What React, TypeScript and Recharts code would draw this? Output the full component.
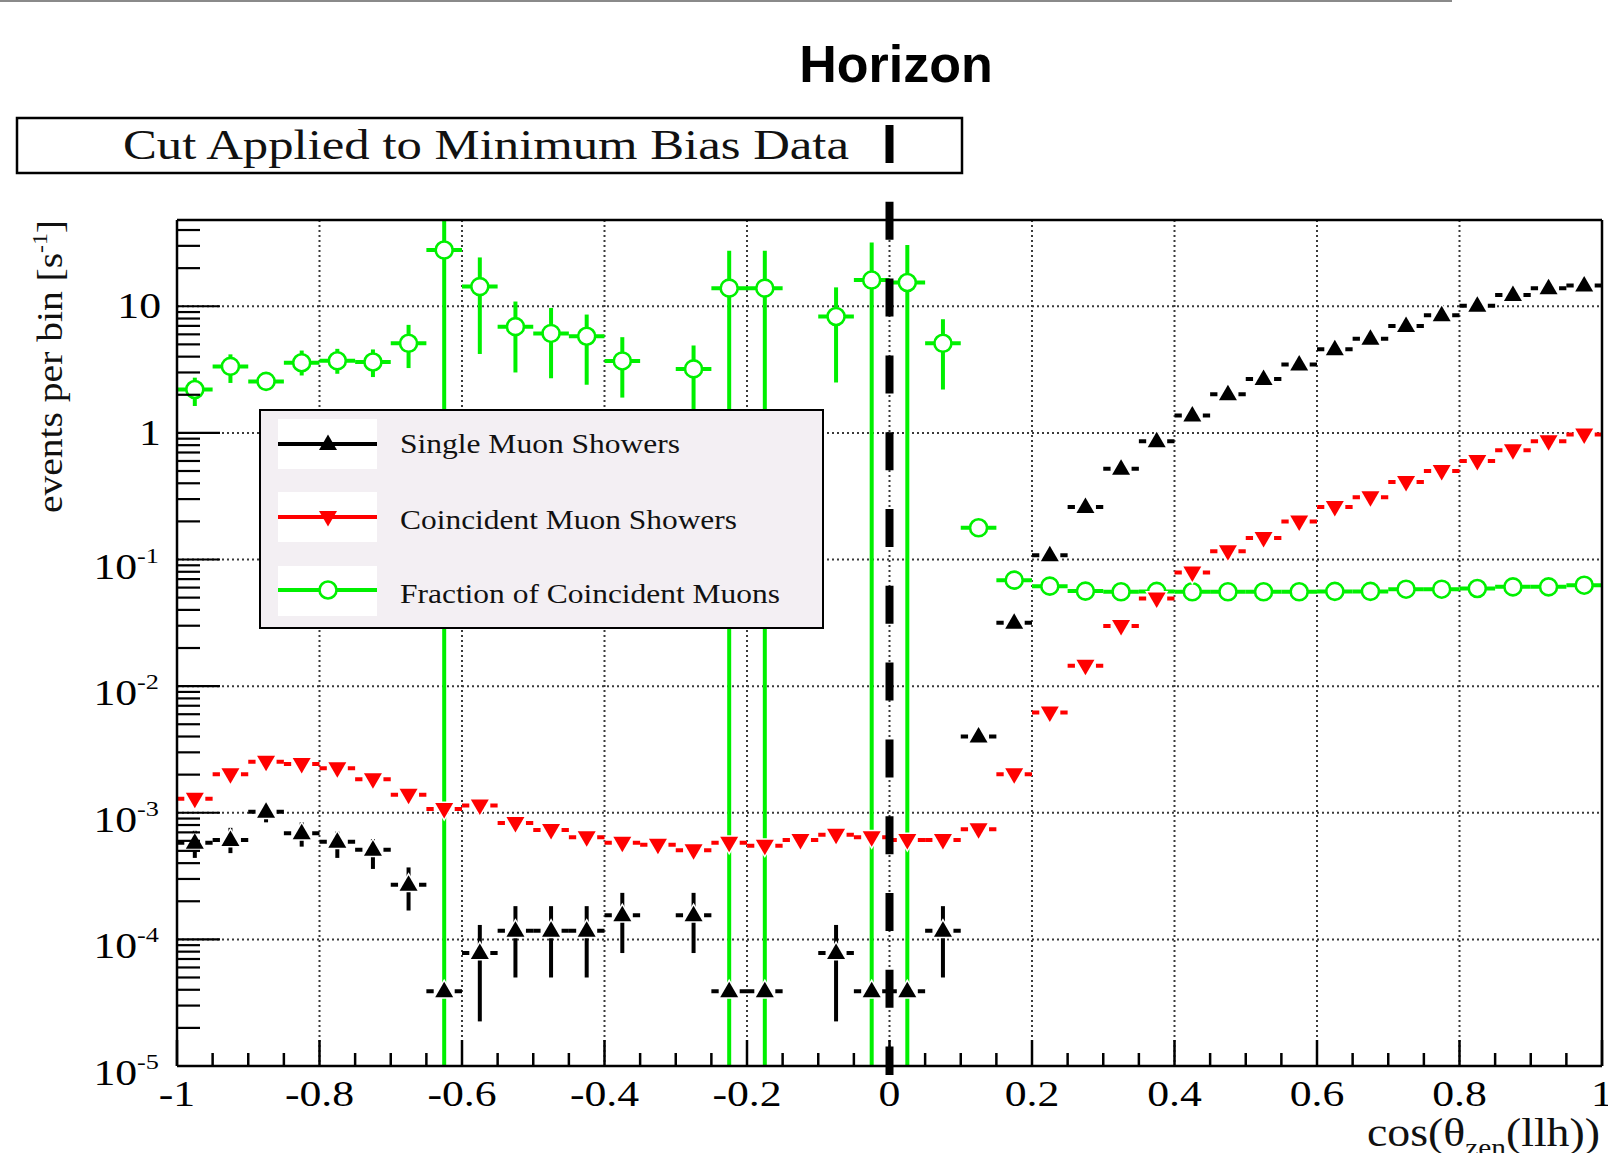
import React from 'react';
import { ScatterChart, Scatter, XAxis, YAxis, CartesianGrid, ReferenceLine, ErrorBar, Legend } from 'recharts';

// ---------- data ----------
const binCenters = [-0.975, -0.925, -0.875, -0.825, -0.775, -0.725, -0.675, -0.625, -0.575, -0.525, -0.475, -0.425, -0.375, -0.325, -0.275, -0.225, -0.175, -0.125, -0.075, -0.025, 0.025, 0.075, 0.125, 0.175, 0.225, 0.275, 0.325, 0.375, 0.425, 0.475, 0.525, 0.575, 0.625, 0.675, 0.725, 0.775, 0.825, 0.875, 0.925, 0.975];
const binHalfWidth = 0.025;

const singleMuon = [5.8e-4, 6.1e-4, 1.02e-3, 6.9e-4, 5.9e-4, 5.1e-4, 2.7e-4, 3.9e-5, 7.8e-5, 1.17e-4, 1.17e-4, 1.17e-4, 1.55e-4, null, 1.55e-4, 3.9e-5, 3.9e-5, null, 7.8e-5, 3.9e-5, 3.9e-5, 1.17e-4, 4.0e-3, 0.0316, 0.108, 0.26, 0.52, 0.86, 1.37, 2.02, 2.67, 3.47, 4.57, 5.55, 6.98, 8.5, 10.1, 12.3, 13.9, 14.6];
const singleLow = [4.4e-4, 4.8e-4, 8.4e-4, 5.4e-4, 4.4e-4, 3.6e-4, 1.69e-4, null, 2.25e-5, 5.0e-5, 5.0e-5, 5.0e-5, 7.8e-5, null, 7.8e-5, null, null, null, 2.25e-5, null, null, 5.0e-5, null, null, null, null, null, null, null, null, null, null, null, null, null, null, null, null, null, null];
const singleHigh = [7.2e-4, 7.6e-4, 1.16e-3, 8.4e-4, 7.1e-4, 6.2e-4, 3.7e-4, null, 1.3e-4, 1.83e-4, 1.83e-4, 1.83e-4, 2.33e-4, null, 2.33e-4, null, null, null, 1.3e-4, null, null, 1.83e-4, null, null, null, null, null, null, null, null, null, null, null, null, null, null, null, null, null, null];

const coincidentMuon = [1.29e-3, 2.01e-3, 2.53e-3, 2.43e-3, 2.25e-3, 1.84e-3, 1.39e-3, 1.07e-3, 1.14e-3, 8.3e-4, 7.3e-4, 6.4e-4, 5.8e-4, 5.6e-4, 5.05e-4, 5.8e-4, 5.5e-4, 6.1e-4, 6.7e-4, 6.4e-4, 6.1e-4, 6.1e-4, 7.4e-4, 2.01e-3, 6.2e-3, 0.0145, 0.0298, 0.0493, 0.079, 0.116, 0.148, 0.2, 0.26, 0.31, 0.41, 0.5, 0.6, 0.73, 0.86, 0.97];

const fraction = [2.2, 3.35, 2.55, 3.58, 3.71, 3.63, 5.1, 27.8, 14.3, 6.9, 6.1, 5.8, 3.7, null, 3.2, 13.9, 13.9, null, 8.3, 16.1, 15.4, 5.1, 0.178, 0.0687, 0.0616, 0.0563, 0.0556, 0.056, 0.0556, 0.0556, 0.0556, 0.0556, 0.056, 0.056, 0.0583, 0.0583, 0.059, 0.0608, 0.0608, 0.0627];
const fractionLow = [1.63, 2.48, null, 2.84, 2.93, 2.76, 3.25, 1e-5, 4.2, 3.0, 2.7, 2.4, 1.9, null, 1.5, 1e-5, 1e-5, null, 2.5, 1e-5, 1e-5, 2.2, null, null, null, null, null, null, null, null, null, null, null, null, null, null, null, null, null, null];
const fractionHigh = [2.73, 4.17, null, 4.47, 4.61, 4.56, 7.13, 48, 24.3, 10.9, 9.7, 8.6, 5.7, null, 4.9, 27.4, 27.4, null, 14.1, 31.9, 30.4, 7.9, null, null, null, null, null, null, null, null, null, null, null, null, null, null, null, null, null, null];

const xMajorTicks = [-1, -0.8, -0.6, -0.4, -0.2, 0, 0.2, 0.4, 0.6, 0.8, 1];
const xTickLabels = ['-1', '-0.8', '-0.6', '-0.4', '-0.2', '0', '0.2', '0.4', '0.6', '0.8', '1'];
const yMajorTicks = [1e-5, 1e-4, 1e-3, 1e-2, 1e-1, 1, 10];
const yTickBase = ['10', '10', '10', '10', '10', '1', '10'];
const yTickExp = ['-5', '-4', '-3', '-2', '-1', '', ''];
const gridX = [-0.8, -0.6, -0.4, -0.2, 0, 0.2, 0.4, 0.6, 0.8];
const gridY = [1e-4, 1e-3, 1e-2, 1e-1, 1, 10];
const Y_MIN = 1e-5;
const Y_MAX = 48;

const legendLabels = ['Single Muon Showers', 'Coincident Muon Showers', 'Fraction of Coincident Muons'];

// ---------- derived tables ----------
const xMinorTicks: number[] = [];
for (let i = 0; i < xMajorTicks.length - 1; i++) {
  for (let k = 1; k < 4; k++) xMinorTicks.push(+(xMajorTicks[i] + k * 0.05).toFixed(2));
}
const xAllTicks = [...xMajorTicks, ...xMinorTicks].sort((a, b) => a - b);
const yMinorTicks: number[] = [];
yMajorTicks.forEach((m) => {
  for (let k = 2; k <= 9; k++) {
    const v = +(m * k).toPrecision(3);
    if (v < Y_MAX) yMinorTicks.push(v);
  }
});
const yAllTicks = [...yMajorTicks, ...yMinorTicks].sort((a, b) => a - b);

function buildSeries(values: (number | null)[], low?: (number | null)[], high?: (number | null)[]) {
  const out: any[] = [];
  values.forEach((v, i) => {
    if (v == null) return;
    const lo = low ? low[i] : null;
    const hi = high ? high[i] : null;
    out.push({
      x: binCenters[i],
      y: v,
      ex: binHalfWidth,
      ey: lo != null && hi != null ? [v - lo, hi - v] : [0, 0],
    });
  });
  return out;
}

const singleData = buildSeries(singleMuon, singleLow, singleHigh);
const coincidentData = buildSeries(coincidentMuon);
const fractionData = buildSeries(fraction, fractionLow, fractionHigh);

// ---------- styles ----------
const SERIF = '"Liberation Serif", "Times New Roman", serif';
const BLACK = '#000000';
const RED = '#ff0000';
const GREEN = '#00f000';
const STRETCH = 1.25;

// ---------- markers ----------
const bad = (cx: any, cy: any) => cx == null || cy == null || isNaN(cx) || isNaN(cy);

const TriUp = (p: any) => {
  const { cx, cy, noGap } = p;
  if (bad(cx, cy)) return null;
  return (
    <g>
      {!noGap && <rect x={cx - 10.5} y={cy - 3} width={21} height={6} fill="#ffffff" />}
      <polygon
        points={`${cx},${cy - 9.5} ${cx - 9},${cy + 6} ${cx + 9},${cy + 6}`}
        fill={BLACK}
        stroke="#ffffff"
        strokeWidth={noGap ? 0 : 3}
        style={{ paintOrder: 'stroke' }}
      />
    </g>
  );
};
const TriDown = (p: any) => {
  const { cx, cy, noGap } = p;
  if (bad(cx, cy)) return null;
  return (
    <g>
      {!noGap && <rect x={cx - 10.5} y={cy - 3} width={21} height={6} fill="#ffffff" />}
      <polygon
        points={`${cx},${cy + 9.5} ${cx - 9},${cy - 6} ${cx + 9},${cy - 6}`}
        fill={RED}
        stroke="#ffffff"
        strokeWidth={noGap ? 0 : 3}
        style={{ paintOrder: 'stroke' }}
      />
    </g>
  );
};
const OpenCircle = (p: any) => {
  const { cx, cy } = p;
  if (bad(cx, cy)) return null;
  return <circle cx={cx} cy={cy} r={8.5} fill="#ffffff" stroke={GREEN} strokeWidth={2.6} />;
};

// ---------- ticks ----------
const XTick = (props: any) => {
  const { x, y, payload } = props;
  const v = payload.value;
  const idx = xMajorTicks.findIndex((m) => Math.abs(m - v) < 1e-6);
  const major = idx >= 0;
  return (
    <g>
      <line x1={x} x2={x} y1={y} y2={y - (major ? 26 : 13)} stroke={BLACK} strokeWidth={2.5} />
      {major && (
        <text
          transform={`translate(${x},${y + 40}) scale(${STRETCH},1)`}
          textAnchor="middle"
          fontSize={35}
          fontFamily={SERIF}
          fill={BLACK}
        >
          {xTickLabels[idx]}
        </text>
      )}
    </g>
  );
};

const YTick = (props: any) => {
  const { x, y, payload } = props;
  const v = payload.value;
  const idx = yMajorTicks.findIndex((m) => Math.abs(m - v) / m < 1e-6);
  const major = idx >= 0;
  const exp = major ? yTickExp[idx] : '';
  return (
    <g>
      <line x1={x} x2={x + (major ? 43 : 23)} y1={y} y2={y} stroke={BLACK} strokeWidth={2.2} />
      {major &&
        (exp ? (
          <text
            transform={`translate(${x - 18},${y + 19}) scale(${STRETCH},1)`}
            textAnchor="end"
            fontSize={35}
            fontFamily={SERIF}
            fill={BLACK}
          >
            {yTickBase[idx]}
            <tspan dy={-16} fontSize={21}>
              {exp}
            </tspan>
          </text>
        ) : (
          <text
            transform={`translate(${x - 16},${y + 12}) scale(${STRETCH},1)`}
            textAnchor="end"
            fontSize={35}
            fontFamily={SERIF}
            fill={BLACK}
          >
            {yTickBase[idx]}
          </text>
        ))}
    </g>
  );
};

// ---------- horizon line ----------
const HorizonLine = (p: any) => {
  const top = Math.min(p.y1, p.y2);
  const bottom = Math.max(p.y1, p.y2);
  return (
    <line x1={p.x1} x2={p.x2} y1={top - 95} y2={bottom + 9} stroke={BLACK} strokeWidth={8} strokeDasharray="38 38.8" />
  );
};

// ---------- legend ----------
const legendColors = [BLACK, RED, GREEN];
const LegendBox = () => {
  const rowLine = [35, 108, 181];
  const rowTop = [10, 83, 157];
  const rowText = [44, 120, 194];
  const textLen = [280, 337, 380];
  return (
    <svg width={566} height={221} style={{ display: 'block' }}>
      <rect x={1} y={1} width={563} height={218} fill="#f3eff3" stroke={BLACK} strokeWidth={2} />
      {legendLabels.map((lab, i) => (
        <g key={lab}>
          <rect x={19} y={rowTop[i]} width={99} height={50} fill="#ffffff" />
          <line x1={19} x2={118} y1={rowLine[i]} y2={rowLine[i]} stroke={legendColors[i]} strokeWidth={4} />
          {i === 0 && <TriUp cx={69} cy={rowLine[i]} noGap />}
          {i === 1 && <TriDown cx={69} cy={rowLine[i]} noGap />}
          {i === 2 && <OpenCircle cx={69} cy={rowLine[i]} />}
          <text
            x={141}
            y={rowText[i]}
            fontSize={27}
            fontFamily={SERIF}
            fill="#111"
            textLength={textLen[i]}
            lengthAdjust="spacingAndGlyphs"
          >
            {lab}
          </text>
        </g>
      ))}
    </svg>
  );
};

export default function App() {
  return (
    <div style={{ position: 'absolute', left: 0, top: 0, width: 1608, height: 1153, background: '#ffffff', fontFamily: SERIF }}>
      <svg width={1608} height={1153} style={{ position: 'absolute', left: 0, top: 0 }}>
        <rect x={0} y={0} width={1452} height={2} fill="#8a8a8a" />
        <text x={896} y={82} textAnchor="middle" fontSize={52} fontWeight="bold" fontFamily='"Liberation Sans", Arial, sans-serif' fill={BLACK}>
          Horizon
        </text>
        <rect x={17} y={118} width={945} height={55} fill="none" stroke={BLACK} strokeWidth={2.5} />
        <text x={123} y={159} fontSize={42} fontFamily={SERIF} fill="#111" textLength={726} lengthAdjust="spacingAndGlyphs">
          Cut Applied to Minimum Bias Data
        </text>
        <text
          transform="translate(62,513) rotate(-90)"
          fontSize={35}
          fontFamily={SERIF}
          fill="#111"
          textLength={293}
          lengthAdjust="spacingAndGlyphs"
        >
          events per bin [s
          <tspan dy={-15} fontSize={21}>
            -1
          </tspan>
          <tspan dy={15}>]</tspan>
        </text>
        <text
          x={1600}
          y={1146}
          textAnchor="end"
          fontSize={39}
          fontFamily={SERIF}
          fill="#111"
          textLength={233}
          lengthAdjust="spacingAndGlyphs"
        >
          cos(θ
          <tspan dy={10} fontSize={25}>
            zen
          </tspan>
          <tspan dy={-10}>(llh))</tspan>
        </text>
      </svg>
      <div style={{ position: 'absolute', left: 0, top: 0 }}>
        <ScatterChart width={1608} height={1153} margin={{ top: 220, right: 6, bottom: 27, left: 77 }}>
          <CartesianGrid
            xAxisId="x"
            yAxisId="y"
            horizontalValues={gridY}
            verticalValues={gridX}
            stroke="#3a3a3a"
            strokeWidth={2}
            strokeDasharray="2 3"
          />
          <XAxis
            xAxisId="x"
            type="number"
            dataKey="x"
            domain={[-1, 1]}
            allowDataOverflow
            ticks={xAllTicks}
            interval={0}
            tickSize={0}
            tickMargin={0}
            tickLine={false}
            axisLine={{ stroke: BLACK, strokeWidth: 2.5 }}
            tick={<XTick />}
            height={60}
          />
          <YAxis
            yAxisId="y"
            type="number"
            dataKey="y"
            scale="log"
            domain={[Y_MIN, Y_MAX]}
            allowDataOverflow
            ticks={yAllTicks}
            interval={0}
            tickSize={0}
            tickMargin={0}
            tickLine={false}
            axisLine={{ stroke: BLACK, strokeWidth: 2.5 }}
            tick={<YTick />}
            width={100}
          />
          <Scatter name={legendLabels[2]} xAxisId="x" yAxisId="y" data={fractionData} shape={OpenCircle} isAnimationActive={false}>
            <ErrorBar dataKey="ex" direction="x" width={0} stroke={GREEN} strokeWidth={4} isAnimationActive={false} />
            <ErrorBar dataKey="ey" direction="y" width={0} stroke={GREEN} strokeWidth={4} isAnimationActive={false} />
          </Scatter>
          <Scatter name={legendLabels[1]} xAxisId="x" yAxisId="y" data={coincidentData} shape={TriDown} isAnimationActive={false}>
            <ErrorBar dataKey="ex" direction="x" width={0} stroke={RED} strokeWidth={4} isAnimationActive={false} />
          </Scatter>
          <Scatter name={legendLabels[0]} xAxisId="x" yAxisId="y" data={singleData} shape={TriUp} isAnimationActive={false}>
            <ErrorBar dataKey="ex" direction="x" width={0} stroke={BLACK} strokeWidth={4} isAnimationActive={false} />
            <ErrorBar dataKey="ey" direction="y" width={0} stroke={BLACK} strokeWidth={4} isAnimationActive={false} />
          </Scatter>
          <ReferenceLine xAxisId="x" yAxisId="y" x={1} stroke={BLACK} strokeWidth={2.5} />
          <ReferenceLine xAxisId="x" yAxisId="y" y={Y_MAX} stroke={BLACK} strokeWidth={2.5} />
          <ReferenceLine xAxisId="x" yAxisId="y" x={0} shape={HorizonLine} />
          <Legend
            layout="horizontal"
            verticalAlign="middle"
            align="center"
            content={() => <LegendBox />}
            wrapperStyle={{ left: 259, top: 409, width: 566, height: 221 }}
          />
        </ScatterChart>
      </div>
    </div>
  );
}
